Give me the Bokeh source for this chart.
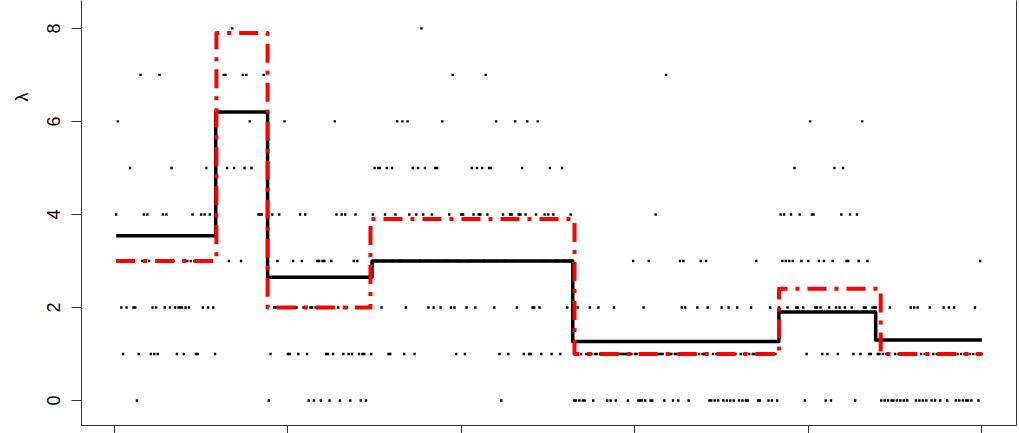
import math
from bokeh.plotting import figure
from bokeh.models import LinearAxis, Range1d, FixedTicker, Title
from bokeh.embed import file_html
from bokeh.resources import INLINE

# observed counts, one per time index 1..500 (values above 8 lie beyond the visible area)
counts = [
    4, 6, 3, 2, 1, 3, 2, 3, 5, 3,
    2, 2, 0, 1, 7, 3, 4, 3, 4, 3,
    1, 2, 1, 2, 1, 7, 3, 4, 2, 4,
    3, 2, 5, 3, 2, 1, 2, 2, 2, 1,
    2, 3, 2, 3, 4, 3, 1, 1, 3, 4,
    2, 4, 5, 2, 4, 3, 2, 1, 9, 11,
    10, 9, 7, 7, 5, 3, 12, 8, 5, 9,
    10, 13, 3, 7, 5, 7, 9, 6, 5, 10,
    11, 9, 4, 4, 4, 7, 10, 4, 0, 1,
    4, 2, 2, 3, 4, 2, 2, 6, 2, 1,
    1, 2, 3, 2, 2, 1, 4, 3, 2, 4,
    1, 0, 2, 2, 0, 2, 3, 3, 0, 3,
    3, 1, 1, 0, 3, 1, 6, 4, 2, 0,
    4, 1, 4, 2, 1, 0, 1, 3, 4, 3,
    1, 0, 1, 1, 0, 2, 2, 1, 4, 5,
    3, 5, 5, 2, 3, 4, 5, 1, 1, 5,
    3, 4, 6, 3, 3, 6, 1, 2, 6, 4,
    3, 5, 1, 4, 5, 3, 8, 4, 5, 3,
    2, 3, 4, 2, 5, 5, 3, 2, 6, 3,
    3, 3, 4, 2, 7, 2, 1, 3, 3, 4,
    4, 1, 2, 3, 3, 5, 4, 2, 5, 4,
    4, 5, 3, 7, 4, 5, 5, 3, 2, 6,
    3, 1, 0, 4, 3, 3, 1, 4, 4, 3,
    6, 2, 4, 4, 5, 1, 4, 6, 1, 1,
    2, 2, 4, 6, 2, 1, 3, 4, 3, 4,
    5, 1, 4, 3, 3, 3, 1, 5, 3, 3,
    2, 3, 4, 3, 0, 0, 2, 0, 1, 0,
    0, 1, 1, 2, 1, 0, 1, 1, 2, 1,
    1, 1, 1, 0, 1, 0, 1, 2, 0, 1,
    1, 1, 1, 1, 1, 0, 1, 1, 3, 1,
    1, 0, 0, 0, 2, 0, 1, 3, 0, 0,
    1, 4, 1, 1, 1, 1, 0, 7, 1, 1,
    1, 0, 1, 1, 0, 3, 2, 3, 2, 1,
    0, 1, 1, 1, 1, 2, 1, 3, 1, 1,
    3, 2, 0, 0, 1, 0, 1, 0, 1, 2,
    0, 1, 0, 2, 0, 1, 0, 1, 2, 0,
    1, 0, 1, 0, 0, 1, 2, 1, 1, 3,
    0, 0, 1, 1, 1, 1, 0, 2, 0, 1,
    1, 0, 2, 4, 3, 4, 3, 2, 3, 4,
    3, 5, 2, 2, 4, 3, 2, 0, 1, 3,
    6, 4, 4, 2, 2, 3, 2, 1, 3, 0,
    1, 2, 0, 3, 5, 2, 1, 2, 4, 5,
    2, 3, 3, 4, 2, 1, 0, 4, 3, 1,
    6, 2, 2, 3, 1, 1, 2, 2, 2, 1,
    1, 0, 1, 0, 1, 0, 2, 0, 0, 1,
    0, 1, 0, 1, 0, 1, 0, 1, 2, 1,
    2, 0, 2, 0, 1, 0, 1, 0, 1, 2,
    0, 1, 0, 1, 1, 0, 1, 2, 1, 0,
    2, 1, 1, 2, 0, 1, 0, 1, 0, 1,
    0, 0, 1, 0, 1, 2, 1, 0, 3, 1,
]
time_index = list(range(1, len(counts) + 1))

# estimated rate (black solid) and true rate (red dot-dash)
est_breaks = [58.4, 88.3, 148.5, 264.2, 383.0, 438.8]
est_levels = [3.54, 6.2, 2.65, 3.0, 1.27, 1.9, 1.3]
true_breaks = [58.8, 88.3, 147.6, 265.2, 383.1, 441.7]
true_levels = [3.0, 7.9, 2.0, 3.9, 1.0, 2.4, 1.0]

x_ticks = [0, 100, 200, 300, 400, 500]
y_ticks = [0, 2, 4, 6, 8]
y_label = "λ"


def step_path(breaks, levels, x0, x1):
    xs, ys = [x0], [levels[0]]
    for b, a, c in zip(breaks, levels[:-1], levels[1:]):
        xs += [b, b]
        ys += [a, c]
    xs.append(x1)
    ys.append(levels[-1])
    return xs, ys


n = len(counts)
pad = 0.04 * (n - 1)
p = figure(
    width=1019, height=433,
    x_range=Range1d(1 - pad, n + pad),
    y_range=Range1d(-0.538, 8.6),
    output_backend="svg", toolbar_location=None,
    x_axis_location=None, y_axis_location=None,
    min_border_left=0, min_border_right=3,
    min_border_top=0, min_border_bottom=0,
    background_fill_color="white", border_fill_color="white",
)
p.outline_line_color = None
p.xgrid.grid_line_color = None
p.ygrid.grid_line_color = None

axis_col = "#333333"
yaxis = LinearAxis(
    ticker=FixedTicker(ticks=y_ticks),
    major_tick_out=10, major_tick_in=0, minor_tick_out=0, minor_tick_in=0,
    major_label_orientation="vertical", major_label_standoff=11,
    axis_line_color=axis_col, major_tick_line_color=axis_col,
    major_label_text_font="Liberation Sans", major_label_text_font_size="18px",
    major_label_text_color="black",
)
p.add_layout(yaxis, "left")

title = Title(text=y_label, align="right", vertical_align="top",
              offset=92, standoff=22,
              text_font="Liberation Sans", text_font_size="18px",
              text_font_style="normal", text_color="black")
p.add_layout(title, "left")

xaxis = LinearAxis(
    ticker=FixedTicker(ticks=x_ticks),
    major_tick_out=8, major_tick_in=0, minor_tick_out=0, minor_tick_in=0,
    major_label_overrides={t: "" for t in x_ticks}, major_label_standoff=0,
    axis_line_color=axis_col, major_tick_line_color=axis_col,
)
p.add_layout(xaxis, "below")

raxis = LinearAxis(
    ticker=FixedTicker(ticks=[]),
    major_tick_out=0, major_tick_in=0, minor_tick_out=0, minor_tick_in=0,
    major_label_standoff=0,
    axis_line_color=axis_col,
)
p.add_layout(raxis, "right")

p.scatter(time_index, counts, marker="square", size=2.4,
          fill_color="black", line_color=None)

ex, ey = step_path(est_breaks, est_levels, 1, n)
p.line(ex, ey, line_color="black", line_width=3.5, line_join="round")

tx, ty = step_path(true_breaks, true_levels, 1, n)
p.line(tx, ty, line_color="red", line_width=4, line_dash="19 8 4 8",
       line_join="round")

open("out.html", "w").write(file_html(p, INLINE))
